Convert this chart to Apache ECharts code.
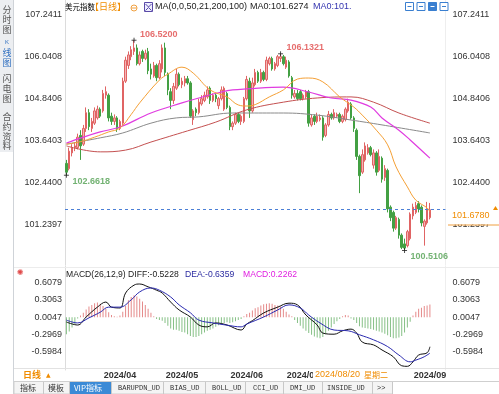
<!DOCTYPE html>
<html><head><meta charset="utf-8">
<script src="https://cdn.jsdelivr.net/npm/echarts@6/dist/echarts.min.js"></script>
<style>html,body{margin:0;padding:0;background:#fff;}#c{width:499px;height:394px;}</style>
</head><body><div id="c"></div>
<script>
// ---------- DATA ----------
const categories = [
'2024/03/05','2024/03/06','2024/03/07','2024/03/08','2024/03/11','2024/03/12','2024/03/13','2024/03/14','2024/03/15','2024/03/18','2024/03/19','2024/03/20','2024/03/21','2024/03/22','2024/03/25','2024/03/26','2024/03/27','2024/03/28','2024/03/29',
'2024/04/01','2024/04/02','2024/04/03','2024/04/04','2024/04/05','2024/04/08','2024/04/09','2024/04/10','2024/04/11','2024/04/12','2024/04/15','2024/04/16','2024/04/17','2024/04/18','2024/04/19','2024/04/22','2024/04/23','2024/04/24','2024/04/25','2024/04/26','2024/04/29','2024/04/30',
'2024/05/01','2024/05/02','2024/05/03','2024/05/06','2024/05/07','2024/05/08','2024/05/09','2024/05/10','2024/05/13','2024/05/14','2024/05/15','2024/05/16','2024/05/17','2024/05/20','2024/05/21','2024/05/22','2024/05/23','2024/05/24','2024/05/27','2024/05/28','2024/05/29','2024/05/30','2024/05/31',
'2024/06/03','2024/06/04','2024/06/05','2024/06/06','2024/06/07','2024/06/10','2024/06/11','2024/06/12','2024/06/13','2024/06/14','2024/06/17','2024/06/18','2024/06/19','2024/06/20','2024/06/21','2024/06/24','2024/06/25','2024/06/26','2024/06/27','2024/06/28',
'2024/07/01','2024/07/02','2024/07/03','2024/07/04','2024/07/05','2024/07/08','2024/07/09','2024/07/10','2024/07/11','2024/07/12','2024/07/15','2024/07/16','2024/07/17','2024/07/18','2024/07/19','2024/07/22','2024/07/23','2024/07/24','2024/07/25','2024/07/26','2024/07/29','2024/07/30','2024/07/31',
'2024/08/01','2024/08/02','2024/08/05','2024/08/06','2024/08/07','2024/08/08','2024/08/09','2024/08/12','2024/08/13','2024/08/14','2024/08/15','2024/08/16','2024/08/19','2024/08/20','2024/08/21','2024/08/22','2024/08/23','2024/08/26','2024/08/27','2024/08/28','2024/08/29','2024/08/30',
'2024/09/02'];

// [open, close, low, high]
const candles = [
[103.0,102.75,102.6618,103.1],[102.85,103.35,102.8,103.45],[103.3,103.45,103.2,103.55],[103.45,103.5,103.35,103.6],[103.45,103.75,103.4,103.85],
[103.8,103.5,103.1,103.95],[103.55,104.0,103.5,104.1],[104.0,104.45,103.9,104.6],[104.45,104.05,103.95,104.55],[104.0,104.2,103.9,104.3],
[104.15,104.5,104.1,104.6],[104.3,104.55,104.25,104.65],[104.55,104.35,104.3,104.6],[104.5,105.0,104.45,105.1],[104.95,105.05,104.85,105.2],
[104.95,104.3,104.2,105.0],[104.35,104.2,104.1,104.45],[104.2,104.3,104.1,104.4],[104.3,104.0,103.9,104.35],[104.0,104.2,103.95,104.25],
[104.15,105.35,104.1,105.45],[105.35,105.95,105.3,106.05],[105.8,106.1,105.7,106.2],[106.05,106.25,105.95,106.35],[106.2,106.3,106.1,106.52],
[106.3,105.85,105.8,106.4],[105.85,106.1,105.8,106.2],[106.2,106.0,105.9,106.25],[106.0,106.15,105.95,106.25],[106.2,105.65,105.55,106.3],
[105.7,105.55,105.4,105.85],[105.5,105.8,105.45,105.9],[105.8,105.45,105.35,105.85],[105.45,105.85,105.4,105.95],[105.7,106.3,105.6,106.4],
[106.3,105.6,105.5,106.45],[105.55,105.1,104.95,105.6],[105.05,104.8,104.55,105.15],[104.8,105.2,104.7,105.3],[105.15,105.55,105.1,105.7],
[105.55,105.25,105.2,105.6],[105.25,105.35,105.15,105.45],[105.3,105.42,105.2,105.5],[105.42,105.3,105.25,105.5],[105.3,104.35,104.3,105.35],
[104.25,104.5,104.1,104.55],[104.55,104.45,104.35,104.6],[104.45,104.75,104.4,104.85],[104.7,104.85,104.65,104.95],[104.8,104.95,104.75,105.05],
[104.9,105.1,104.85,105.2],[105.15,104.8,104.7,105.2],[104.8,104.95,104.75,105.0],[104.95,104.85,104.75,105.0],[104.65,104.85,104.55,104.9],
[104.85,105.1,104.8,105.2],[104.55,105.15,104.5,105.2],[105.0,104.6,104.55,105.05],[104.6,104.05,103.95,104.65],[104.05,104.15,103.95,104.2],
[104.15,104.4,104.1,104.45],[104.4,104.2,104.15,104.45],[104.2,104.35,104.1,104.4],[104.2,104.85,104.15,104.9],[104.85,105.4,104.8,105.5],
[105.35,104.5,104.3,105.45],[104.5,105.3,104.45,105.45],[105.25,105.6,105.2,105.7],[105.6,105.35,105.3,105.65],[105.35,105.6,105.3,105.7],
[105.6,105.4,105.35,105.65],[105.4,105.95,105.35,106.05],[105.85,106.0,105.8,106.05],[106.0,105.7,105.65,106.05],[105.7,105.85,105.65,105.9],
[105.8,106.05,105.75,106.1],[106.0,106.05,105.9,106.1321],[106.05,105.85,105.8,106.1],[105.75,105.95,105.7,106.05],[105.9,105.5,105.45,105.95],
[105.45,104.95,104.85,105.5],[104.9,105.0,104.85,105.1],[105.0,104.85,104.8,105.1],[105.05,104.85,104.8,105.1],[104.85,104.95,104.8,105.0],
[104.9,105.05,104.85,105.1],[105.05,104.15,104.05,105.1],[104.1,104.3,104.05,104.4],[104.35,104.2,104.1,104.4],[104.2,104.35,104.15,104.45],
[104.25,104.3,104.2,104.4],[104.3,103.75,103.65,104.35],[103.8,104.1,103.75,104.15],[104.1,104.4,104.05,104.5],[104.4,104.3,104.25,104.45],
[104.3,104.45,104.25,104.55],[104.35,104.4,104.3,104.45],[104.4,104.2,104.15,104.45],[104.2,104.35,104.15,104.4],[104.25,104.55,104.2,104.6],
[104.5,104.75,104.45,104.85],[104.7,104.3,104.25,104.75],[104.3,104.0,103.9,104.35],[103.95,103.2,103.1,104.0],[103.2,102.65,102.15,103.25],
[102.75,103.25,102.7,103.4],[103.1,103.5,103.05,103.6],[103.3,103.45,103.25,103.55],[103.45,103.25,103.2,103.5],[102.95,103.3,102.85,103.4],
[103.3,102.75,102.65,103.35],[102.8,103.2,102.75,103.4],[103.15,102.55,102.45,103.2],[102.6,102.85,102.5,102.95],[102.8,101.7,101.6,102.85],
[101.75,101.45,101.35,101.8],[101.6,101.15,101.05,101.65],[101.15,101.45,101.1,101.5],[101.4,100.95,100.85,101.45],[100.95,100.6,100.55,101.0],
[100.7,100.58,100.5106,100.85],[100.65,101.05,100.6,101.1],[100.85,101.55,100.8,101.6],[101.5,101.75,101.4,101.85],[101.6,101.8,101.55,101.9],
[101.85,101.7,101.6,101.92],[101.75,101.3,101.2,101.8],[101.2,101.35,100.65,101.4],[101.3,101.7,101.25,101.9],[101.45,101.678,101.4,101.87]];

// moving averages: [candle index, value]
const ma21 = [[0,103.55],[5,103.62],[10,103.75],[15,103.9],[19,104.01],[23,104.4],[26,104.73],[33,105.38],[36,105.55],[41,105.75],[45,105.58],[51,105.1],[57,104.9],[61,104.67],[64,104.64],[67,104.68],[72,104.9],[77,105.1],[82,105.41],[86,105.44],[91,105.33],[97,104.9],[102,104.61],[105,104.38],[110,103.95],[114,103.53],[117,102.9],[121,102.33],[124,101.95],[128,101.73],[129,101.62]];
const ma50 = [[0,103.58],[6,103.75],[12,103.9],[19,104.04],[30,104.44],[41,104.73],[47,104.87],[55,105.04],[59,105.1],[64,105.13],[77,105.18],[86,105.04],[94,104.87],[101,104.81],[108,104.61],[112,104.3],[118,103.95],[122,103.67],[129,103.15]];
const ma100 = [[0,103.5],[12,103.33],[21,103.38],[30,103.61],[43,103.93],[53,104.18],[64,104.53],[77,104.75],[89,104.87],[101,104.9],[109,104.75],[118,104.44],[129,104.15]];
const ma200 = [[0,103.55],[12,103.73],[20,103.87],[30,104.15],[39,104.3],[47,104.33],[59,104.44],[65,104.44],[77,104.44],[89,104.38],[101,104.24],[112,104.1],[129,103.87]];

const extremes = [[24,106.52,'high'],[76,106.1321,'high'],[0,102.6618,'low'],[120,100.5106,'low']];
const lastClose = 101.678;

const macdDiff = [[0,-0.084],[4,-0.137],[7,0.005],[11,0.18],[14,0.27],[16,0.18],[19,0.165],[21,0.43],[24,0.57],[26,0.59],[29,0.54],[32,0.48],[34,0.43],[37,0.27],[40,0.13],[44,0.005],[47,-0.137],[50,-0.17],[53,-0.10],[57,-0.137],[62,-0.226],[64,-0.12],[66,-0.06],[70,0.076],[75,0.18],[79,0.25],[82,0.22],[85,0.04],[89,-0.137],[91,-0.28],[95,-0.30],[98,-0.24],[101,-0.21],[103,-0.28],[105,-0.44],[109,-0.49],[112,-0.58],[116,-0.70],[119,-0.86],[121,-0.87],[123,-0.79],[125,-0.67],[128,-0.63],[129,-0.5228]];
const macdDea = [[0,-0.05],[4,-0.10],[8,-0.01],[12,0.09],[15,0.18],[19,0.18],[23,0.31],[26,0.45],[30,0.52],[33,0.48],[37,0.36],[40,0.22],[44,0.08],[47,-0.05],[52,-0.10],[57,-0.14],[62,-0.17],[64,-0.12],[70,0.005],[75,0.13],[79,0.22],[83,0.165],[86,0.04],[90,-0.10],[95,-0.226],[100,-0.24],[104,-0.31],[109,-0.40],[114,-0.52],[118,-0.67],[122,-0.79],[124,-0.76],[127,-0.70],[129,-0.6359]];
const macdHist = [
-0.30,-0.25,-0.18,-0.12,-0.02, 0.03,0.08,0.14,0.19,0.22, 0.25,0.26,0.24,0.20,0.15, 0.09,0.04,0.02,0.01,0.03,
0.10,0.20,0.30,0.36,0.39, 0.37,0.33,0.28,0.22,0.15, 0.08,0.02,-0.03,-0.05,-0.06, -0.10,-0.15,-0.20,-0.22,-0.22,
-0.24,-0.26,-0.27,-0.30,-0.33, -0.35,-0.35,-0.33,-0.30,-0.27, -0.24,-0.22,-0.20,-0.17,-0.14, -0.12,-0.10,-0.09,-0.10,-0.09,
-0.07,-0.05,-0.03,0.02,0.06, 0.08,0.12,0.16,0.18,0.21, 0.23,0.24,0.25,0.24,0.22, 0.21,0.19,0.15,0.10,0.05,
0.02,-0.05,-0.10,-0.15,-0.20, -0.24,-0.28,-0.31,-0.34,-0.36, -0.37,-0.35,-0.30,-0.24,-0.18, -0.12,-0.07,-0.03,0.02,0.04,
0.03,-0.02,-0.05,-0.10,-0.16, -0.18,-0.19,-0.20,-0.21,-0.22, -0.24,-0.25,-0.27,-0.29,-0.32, -0.35,-0.37,-0.37,-0.36,-0.33,
-0.27,-0.18,-0.08,0.03,0.10, 0.15,0.17,0.20,0.21,0.2262];

const priceTicks = [107.2411,106.0408,104.8406,103.6403,102.4400,101.2397];
const macdTicks = [0.6079,0.3063,0.0047,-0.2969,-0.5984];

// ---------- CHART ----------
const F = "'Liberation Sans','Noto Sans CJK SC',sans-serif";
const FC = "'Noto Sans CJK SC','Liberation Sans',sans-serif";
const FM = "'Liberation Mono','Noto Sans CJK SC',monospace";
const PAD = 5;
const xCats = categories.concat(Array.from({length: PAD}, (_, i) => 'pad' + i));
const monthStart = new Set();
categories.forEach((d, i) => { if (i > 0 && d.slice(5, 7) !== categories[i - 1].slice(5, 7)) monthStart.add(i); });

const GL = 65, GW = 380.4;
const UP = '#f4b4b4', UPB = '#e06464', DN = '#43a043';

function yAx(grid, pos, min, max, ticks, margin, lineColor) {
  return {
    type: 'value', gridIndex: grid, position: pos, min: min, max: max, scale: true,
    axisLine: {show: true, lineStyle: {color: lineColor}},
    axisTick: {show: false}, splitLine: {show: false},
    axisLabel: {customValues: ticks, formatter: v => v.toFixed(4), fontSize: 9, color: '#333', fontFamily: F, margin: margin}
  };
}

const T = (text, x, y, o) => ({type: 'text', silent: true, z: 100, style: Object.assign({
  text: text, x: x, y: y, fill: '#222', font: '9px ' + F, textVerticalAlign: 'middle', verticalAlign: 'middle'
}, o || {})});
const R = (x, y, w, h, style) => ({type: 'rect', silent: true, z: 99, shape: {x: x, y: y, width: w, height: h}, style: style});
const L = (x1, y1, x2, y2, stroke) => ({type: 'line', silent: true, z: 99, shape: {x1: x1, y1: y1, x2: x2, y2: y2}, style: {stroke: stroke, lineWidth: 1}});

const graphics = [];
// sidebar
graphics.push(R(0, 0, 13, 152, {fill: '#eceef1'}));
graphics.push(L(13.5, 0, 13.5, 394, '#cfd3d8'));
[['分',10],['时',20],['图',30]].forEach(c => graphics.push(T(c[0], 7, c[1], {font: '9px ' + FC, fill: '#555', textAlign: 'center', align: 'center'})));
graphics.push(T('K', 7, 42, {font: '6px ' + F, fill: '#2f6fc0', textAlign: 'center', align: 'center'}));
[['线',53],['图',63]].forEach(c => graphics.push(T(c[0], 7, c[1], {font: '9px ' + FC, fill: '#2f6fc0', textAlign: 'center', align: 'center'})));
[['闪',79],['电',89],['图',99],['合',117],['约',127],['资',137],['料',146]].forEach(c => graphics.push(T(c[0], 7, c[1], {font: '9px ' + FC, fill: '#555', textAlign: 'center', align: 'center'})));
// pane separators
graphics.push(L(14, 267.5, 499, 267.5, '#ececec'));
graphics.push(L(14, 368.5, 499, 368.5, '#e2e2e2'));
// title row
graphics.push(T('美元指数', 65, 7, {font: '7.5px ' + FC, fill: '#000'}));
graphics.push(T('【日线】', 90, 7, {font: '9px ' + FC, fill: '#f08c00'}));
graphics.push({type: 'circle', z: 100, silent: true, shape: {cx: 134, cy: 8, r: 3}, style: {fill: 'none', stroke: '#f0a040', lineWidth: 1}});
graphics.push(L(131.5, 8, 136.5, 8, '#f0a040'));
graphics.push(R(144.5, 2.5, 8, 9, {fill: '#eef', stroke: '#5a4aa8', lineWidth: 1}));
graphics.push({type: 'polyline', z: 100, silent: true, shape: {points: [[145.5, 4], [148.5, 7], [151.5, 4]]}, style: {stroke: '#5a4aa8', fill: 'none', lineWidth: 1}});
graphics.push({type: 'polyline', z: 100, silent: true, shape: {points: [[145.5, 10.5], [148.5, 7.5], [151.5, 10.5]]}, style: {stroke: '#5a4aa8', fill: 'none', lineWidth: 1}});
graphics.push(T('MA(0,0,50,21,200,100)', 155, 7));
graphics.push(T('MA0:101.6274', 250, 7));
graphics.push(T('MA0:101.', 313, 7, {fill: '#3434b0'}));
// top right tool icons
[405, 416.5, 428, 439.5].forEach((x, i) => {
  graphics.push(R(x + 0.5, 2.5, 8, 8, {fill: i === 2 ? '#3a7fd0' : '#fff', stroke: '#3a7fd0', lineWidth: 1}));
  graphics.push(L(x + 2.5, 6.5, x + 6.5, 6.5, i === 2 ? '#fff' : '#3a7fd0'));
});
// last price label on right
graphics.push(R(448, 207, 51, 17.5, {fill: '#fff'}));
graphics.push(L(448, 225, 499, 225, '#f0a040'));
graphics.push(T('101.6780', 452, 216, {fill: '#f08c00'}));
graphics.push({type: 'polygon', z: 100, silent: true, shape: {points: [[493, 210], [495.5, 206], [498, 210]]}, style: {fill: '#f08c00'}});
// MACD title
graphics.push(T('✺', 17, 273, {fill: '#e04848', font: '8px DejaVu Sans'}));
graphics.push(T('MACD(26,12,9) DIFF:-0.5228', 66, 275, {font: '8.6px ' + F}));
graphics.push(T('DEA:-0.6359', 185, 275, {fill: '#2a2aa0', font: '8.6px ' + F}));
graphics.push(T('MACD:0.2262', 243, 275, {fill: '#e020e0', font: '8.6px ' + F}));
// bottom x-axis strip
graphics.push(T('日线', 23, 375, {font: 'bold 9px ' + FC, fill: '#f08c00'}));
graphics.push(T('▲', 46, 375, {font: '6px DejaVu Sans', fill: '#f08c00'}));
graphics.push(R(313, 369.5, 80, 11, {fill: '#fff'}));
graphics.push(T('2024/08/20', 315, 375, {fill: '#f08c00', font: '9px ' + F}));
graphics.push(T('星期二', 364, 375, {fill: '#f08c00', font: '8px ' + FC}));
// tab strip
graphics.push(R(14, 381.5, 485, 12.5, {fill: '#f4f4f4', stroke: '#cfcfcf', lineWidth: 1}));
graphics.push(R(70, 382, 41, 12, {fill: '#3b8ad6'}));
[43.5, 69.5, 111.5, 163.5, 205.5, 245.5, 283.5, 322.5, 372.5, 392.5].forEach(x => graphics.push(L(x, 382, x, 394, '#c8c8c8')));
graphics.push(R(393, 382, 106, 12, {fill: '#fff'}));
graphics.push(T('指标', 20, 388, {font: '8px ' + FC, fill: '#333'}));
graphics.push(T('模板', 48, 388, {font: '8px ' + FC, fill: '#333'}));
graphics.push(T('VIP指标', 74, 388, {font: '8px ' + FC, fill: '#fff'}));
[['BARUPDN_UD', 118], ['BIAS_UD', 170], ['BOLL_UD', 212], ['CCI_UD', 253], ['DMI_UD', 290], ['INSIDE_UD', 327], ['>>', 377]].forEach(t =>
  graphics.push(T(t[0], t[1], 388, {font: '7px ' + FM, fill: '#333'})));

const option = {
  animation: false,
  backgroundColor: '#fff',
  grid: [
    {left: GL, top: 0, width: GW, height: 265},
    {left: GL, top: 266, width: GW, height: 104}
  ],
  xAxis: [
    {type: 'category', gridIndex: 0, data: xCats, boundaryGap: true, axisLine: {show: false}, axisTick: {show: false}, axisLabel: {show: false}, splitLine: {show: false}},
    {type: 'category', gridIndex: 1, data: xCats, boundaryGap: true, axisLine: {show: false}, axisTick: {show: false}, splitLine: {show: false},
     axisLabel: {interval: (i) => monthStart.has(i), formatter: v => v.slice(0, 7), fontSize: 9, fontWeight: 'bold', color: '#333', fontFamily: F, margin: 1}}
  ],
  yAxis: [
    yAx(0, 'left', 100.0965, 107.6698, priceTicks, 3, '#dcdcdc'),
    yAx(0, 'right', 100.0965, 107.6698, priceTicks, 7, '#eeeeee'),
    yAx(1, 'left', -0.935, 0.9095, macdTicks, 3, '#dcdcdc'),
    yAx(1, 'right', -0.935, 0.9095, macdTicks, 7, '#eeeeee')
  ],
  series: [
    {type: 'candlestick', xAxisIndex: 0, yAxisIndex: 0, data: candles, barWidth: 2,
     itemStyle: {color: UP, color0: DN, borderColor: UPB, borderColor0: DN, borderWidth: 1},
     markLine: {silent: true, symbol: 'none', label: {show: false},
       lineStyle: {color: '#4b7fd6', type: [3, 3], width: 1}, data: [{yAxis: lastClose}]}},
    {type: 'line', xAxisIndex: 0, yAxisIndex: 0, data: ma200, symbol: 'none', smooth: 0.4, lineStyle: {color: '#8a8a8a', width: 1}},
    {type: 'line', xAxisIndex: 0, yAxisIndex: 0, data: ma100, symbol: 'none', smooth: 0.4, lineStyle: {color: '#c45050', width: 1}},
    {type: 'line', xAxisIndex: 0, yAxisIndex: 0, data: ma50, symbol: 'none', smooth: 0.4, lineStyle: {color: '#e03ce0', width: 1.2}},
    {type: 'line', xAxisIndex: 0, yAxisIndex: 0, data: ma21, symbol: 'none', smooth: 0.4, lineStyle: {color: '#f5a035', width: 1}},
    {type: 'scatter', xAxisIndex: 0, yAxisIndex: 0, symbol: 'path://M0,5L10,5M5,0L5,10', symbolSize: 5,
     itemStyle: {color: 'none', borderColor: '#222', borderWidth: 1},
     data: extremes.map(e => ({value: [e[0], e[1]], label: {
       show: true, position: 'right', distance: 1, offset: [0, e[2] === 'high' ? -6 : 6],
       formatter: () => e[1].toFixed(4), fontSize: 9, fontWeight: 'bold', fontFamily: F,
       color: e[2] === 'high' ? '#e04848' : '#4f9f4f'}}))},
    {type: 'bar', xAxisIndex: 1, yAxisIndex: 2, data: macdHist, barWidth: 1,
     itemStyle: {color: p => p.value >= 0 ? '#e58a8a' : '#86c086'}},
    {type: 'line', xAxisIndex: 1, yAxisIndex: 2, data: macdDiff, symbol: 'none', smooth: 0.4, lineStyle: {color: '#111', width: 1}},
    {type: 'line', xAxisIndex: 1, yAxisIndex: 2, data: macdDea, symbol: 'none', smooth: 0.4, lineStyle: {color: '#2a2ab0', width: 1}}
  ],
  graphic: graphics
};
const chart = echarts.init(document.getElementById('c'));
chart.setOption(option);
</script></body></html>
